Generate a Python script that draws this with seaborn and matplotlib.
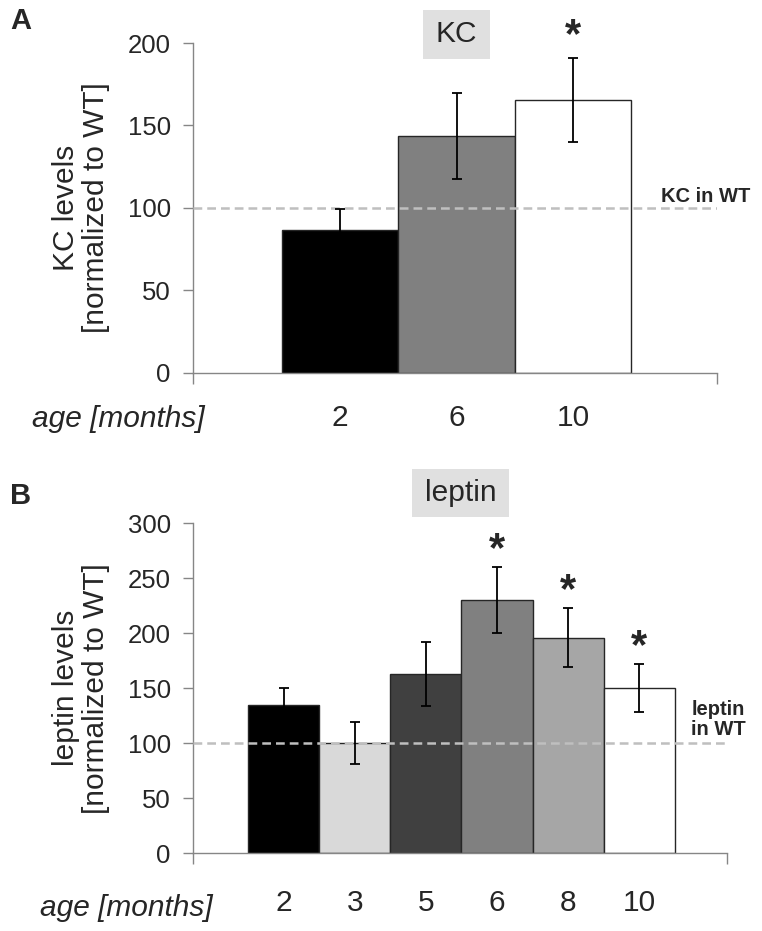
"""
Recreate KC / leptin bar chart (two panels, normalized to WT).
"""
import numpy as np
import pandas as pd
import matplotlib
matplotlib.use("Agg")
import matplotlib.pyplot as plt
import matplotlib.patches as mpatches
import seaborn as sns

# ── Data ──────────────────────────────────────────────────────────────────────
kc_ages = ["2", "6", "10"]
kc_mean = [86.5, 143.8, 165.3]
kc_err = [13.0, 26.0, 25.5]
kc_colors = ["#000000", "#808080", "#ffffff"]
kc_sig = [False, False, True]

leptin_ages = ["2", "3", "5", "6", "8", "10"]
leptin_mean = [134.8, 100.6, 162.7, 230.3, 196.0, 150.3]
leptin_err = [15.5, 19.0, 29.0, 29.8, 27.0, 22.0]
leptin_colors = ["#000000", "#d9d9d9", "#404040", "#808080", "#a6a6a6", "#ffffff"]
leptin_sig = [False, False, False, True, True, True]

WT_LEVEL = 100

# ── Style ─────────────────────────────────────────────────────────────────────
sns.set_style("white")
plt.rcParams['font.family'] = ['Liberation Sans', 'DejaVu Sans']
AXIS_GRAY = '#868686'

fig = plt.figure(figsize=(7.62, 9.31), dpi=100)
ax_a = fig.add_axes([0.2533, 0.5994, 0.6877, 0.3544])
ax_b = fig.add_axes([0.2533, 0.0835, 0.7004, 0.3544])


def draw_panel(ax, ages, means, errs, colors, sig, ymax, ystep, xlim,
               ylabel, wt_label, wt_xy, star_off, xpad):
    df = pd.DataFrame({'age': ages, 'level': means})
    sns.barplot(data=df, x='age', y='level', hue='age', palette=colors,
                order=ages, hue_order=ages, width=1.0, errorbar=None,
                legend=False, edgecolor='#262626', linewidth=1.0, ax=ax,
                zorder=2)
    x = np.arange(len(ages))
    ax.errorbar(x, means, yerr=errs, fmt='none', ecolor='black',
                elinewidth=1.3, capsize=3.5, capthick=1.3, zorder=4)

    # WT reference line
    ax.axhline(WT_LEVEL, color='#bfbfbf', linestyle=(0, (3.5, 2)),
               linewidth=1.8, zorder=3)
    ax.text(wt_xy[0], wt_xy[1], wt_label, transform=ax.transAxes,
            fontsize=14.5, fontweight='bold', ha='left', va='center',
            linespacing=1.05)

    # significance stars
    for xi, m, e, s in zip(x, means, errs, sig):
        if s:
            ax.annotate('*', (xi, m + e), xytext=(0, star_off),
                        textcoords='offset points', ha='center', va='center',
                        fontsize=30, fontweight='bold')

    ax.set_xlim(*xlim)
    ax.set_ylim(0, ymax)
    ax.set_yticks(np.arange(0, ymax + 1, ystep))
    ax.tick_params(axis='y', labelsize=18.5, length=7, width=1,
                   color=AXIS_GRAY, pad=9, left=True)
    ax.set_xticks(x)
    ax.set_xticklabels(ages)
    ax.tick_params(axis='x', which='major', length=0, labelsize=21.5, pad=xpad)
    ax.set_xticks(list(xlim), minor=True)
    ax.tick_params(axis='x', which='minor', length=8, width=1,
                   color=AXIS_GRAY, bottom=True)
    ax.set_xlabel('')
    ax.set_ylabel(ylabel, fontsize=21.5, linespacing=1.1)
    ax.spines[['top', 'right']].set_visible(False)
    for sp in ['left', 'bottom']:
        ax.spines[sp].set_color(AXIS_GRAY)
        ax.spines[sp].set_linewidth(1)
    ax.grid(False)


draw_panel(ax_a, kc_ages, kc_mean, kc_err, kc_colors, kc_sig,
           200, 50, (-1.262, 3.236),
           'KC levels\n[normalized to WT]', 'KC in WT', (0.893, 0.535), 16, 22)
ax_a.yaxis.set_label_coords(-0.158, 0.5)

draw_panel(ax_b, leptin_ages, leptin_mean, leptin_err, leptin_colors,
           leptin_sig, 300, 50, (-1.273, 6.23),
           'leptin levels\n[normalized to WT]', 'leptin\nin WT', (0.934, 0.405), 12, 26)
ax_b.yaxis.set_label_coords(-0.156, 0.5)

# panel letters, x-axis captions
fig.text(10 / 762, 1 - 21 / 931, 'A', fontsize=21, fontweight='bold',
         ha='left', va='center')
fig.text(10 / 762, 1 - 496 / 931, 'B', fontsize=21, fontweight='bold',
         ha='left', va='center')
fig.text(118 / 762, 1 - 419 / 931, 'age [months]', fontsize=21.5,
         style='italic', ha='center', va='center')
fig.text(126 / 762, 1 - 908 / 931, 'age [months]', fontsize=21.5,
         style='italic', ha='center', va='center')

# title boxes
for (x0, x1, y0, y1, title) in [(423, 490, 10, 59, 'KC'),
                                 (412, 509, 469, 517, 'leptin')]:
    fig.patches.append(mpatches.Rectangle(
        (x0 / 762, 1 - y1 / 931), (x1 - x0) / 762, (y1 - y0) / 931,
        transform=fig.transFigure, facecolor='#e0e0e0', edgecolor='none'))
    fig.text((x0 + x1) / 2 / 762, 1 - (y0 + y1) / 2 / 931, title,
             fontsize=21.5, ha='center', va='center')

plt.savefig('out.png', dpi=100)
plt.close()
